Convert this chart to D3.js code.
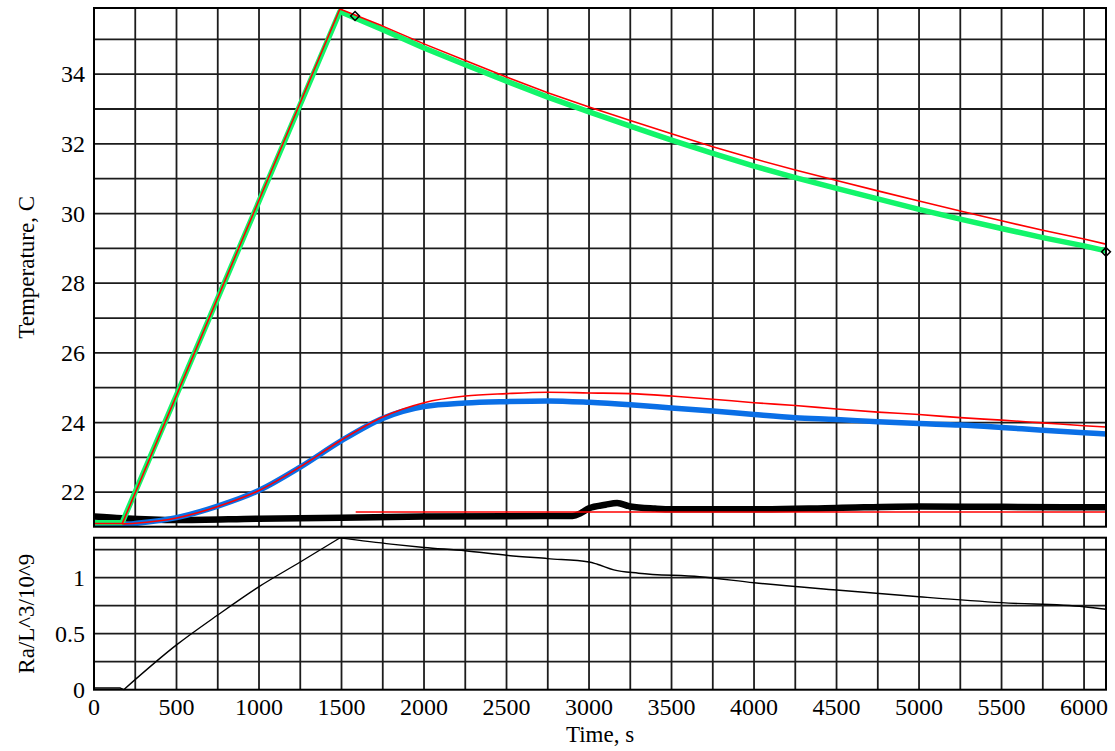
<!DOCTYPE html>
<html><head><meta charset="utf-8">
<script src="https://cdn.jsdelivr.net/npm/d3@7/dist/d3.min.js"></script>
<style>body{margin:0;background:#fff}svg{display:block}text{font-family:"Liberation Serif","Times New Roman",serif;fill:#000}</style>
</head><body><svg id="c" width="1115" height="751"></svg>
<script>
// ---- data ----
const tGreen   = [0,171,1490,1750,2000,2250,2500,2750,3000,3250,3500,3750,4000,4250,4500,4750,5000,5250,5500,5750,6000,6133];
const green    = [21.12,21.13,35.80,35.28,34.75,34.27,33.80,33.34,32.92,32.51,32.11,31.73,31.36,31.03,30.72,30.42,30.12,29.84,29.57,29.31,29.07,28.93];
const greenFit = [21.10,21.10,35.87,35.38,34.87,34.39,33.92,33.47,33.06,32.67,32.29,31.92,31.57,31.25,30.95,30.65,30.36,30.07,29.79,29.52,29.27,29.12];
const tBlue    = [0,171,250,500,750,1000,1250,1500,1750,2000,2250,2500,2750,3000,3250,3500,3750,4000,4250,4500,4750,5000,5250,5500,5750,6000,6133];
const blue     = [21.05,21.06,21.10,21.27,21.60,22.05,22.72,23.48,24.12,24.46,24.56,24.60,24.62,24.58,24.51,24.42,24.33,24.23,24.14,24.09,24.02,23.97,23.93,23.86,23.78,23.71,23.67];
const tBlueFit = [171,250,500,750,1000,1250,1500,1750,2000,2250,2500,2750,3000,3250,3500,3750,4000,4250,4500,4750,5000,5250,5500,5750,6000,6133];
const blueFit  = [21.09,21.11,21.26,21.59,22.05,22.73,23.50,24.16,24.57,24.76,24.83,24.87,24.85,24.83,24.76,24.67,24.57,24.49,24.39,24.30,24.23,24.14,24.07,23.99,23.91,23.87];
const tBlack   = [0,170,500,1000,1500,2000,2500,2900,2950,3000,3100,3170,3250,3400,3500,4000,4500,5000,5500,6000,6133];
const black    = [21.30,21.25,21.20,21.24,21.27,21.30,21.31,21.32,21.40,21.54,21.64,21.69,21.59,21.53,21.51,21.51,21.55,21.59,21.58,21.57,21.57];
const tBlackFit = [1586,6133];
const blackFit  = [21.43,21.43];
const markT = [1582,6133];
const markV = [35.67,28.90];
const tRaBase = [0,160,180];
const raBase  = [0.015,0.015,0.0];
const tRaUp  = [180,500,750,1000,1250,1490];
const raUp   = [0.0,0.40,0.667,0.92,1.14,1.355];
const tRaDown = [1490,1800,2000,2250,2500,2750,3000,3050,3150,3300,3670,4000,4500,5000,5500,6000,6133];
const raDown  = [1.355,1.30,1.27,1.24,1.20,1.17,1.14,1.12,1.07,1.04,1.009,0.955,0.89,0.83,0.777,0.741,0.718];
const xTicks = [0,500,1000,1500,2000,2500,3000,3500,4000,4500,5000,5500,6000];
const yTopTicks = [22,24,26,28,30,32,34];
const yBotTicks = [0,0.5,1];

// ---- layout ----
const L=94, R=1106, T1=8, B1=526.7, T2=537.7, B2=689.7;
const FONT='"Liberation Serif","Times New Roman",serif';
const svg=d3.select("#c");
const x=d3.scaleLinear().domain([0,6133]).range([L,R]);
const y1=d3.scaleLinear().domain([21.01,35.9]).range([B1,T1]);
const y2=d3.scaleLinear().domain([0,1.357]).range([B2,T2]);
const gridC="#1c1c1c";

function panel(y,top,bot,hTicks){
  const g=svg.append("g");
  const xs=d3.range(250,6133,250);
  g.selectAll(".v").data(xs).join("line").attr("x1",d=>x(d)).attr("x2",d=>x(d))
    .attr("y1",top).attr("y2",bot).attr("stroke",gridC).attr("stroke-width",1.8);
  g.selectAll(".h").data(hTicks).join("line").attr("x1",L).attr("x2",R)
    .attr("y1",d=>y(d)).attr("y2",d=>y(d)).attr("stroke",gridC).attr("stroke-width",1.8);
  return g;
}
panel(y1,T1,B1,d3.range(22,36,1));
panel(y2,T2,B2,[0.25,0.5,0.75,1,1.25]);

function line(g,ts,vs,y,color,w,curve){
  const pts=ts.map((t,i)=>[t,vs[i]]);
  g.append("path").datum(pts).attr("fill","none").attr("stroke",color).attr("stroke-width",w)
   .attr("stroke-linejoin","round")
   .attr("d",d3.line().x(d=>x(d[0])).y(d=>y(d[1])).curve(curve||d3.curveLinear));
}
svg.append("clipPath").attr("id","cp1").append("rect").attr("x",L).attr("y",T1).attr("width",R-L).attr("height",B1-T1);
const g1=svg.append("g").attr("clip-path","url(#cp1)");
line(g1,tBlack,black,y1,"#000",6.5,d3.curveMonotoneX);
line(g1,tBlue,blue,y1,"#0a6fe6",5.5,d3.curveMonotoneX);
line(g1,tGreen,green,y1,"#12f56a",5.5);
line(g1,tGreen,greenFit,y1,"#ff0000",1.6);
line(g1,tBlueFit,blueFit,y1,"#ff0000",1.6,d3.curveMonotoneX);
line(g1,tBlackFit,blackFit,y1,"#ff0000",1.6);
const sym=d3.symbol().type(d3.symbolDiamond2).size(50);
svg.append("g").selectAll("path").data(markT.map((t,i)=>[t,markV[i]])).join("path")
  .attr("d",sym).attr("transform",d=>`translate(${x(d[0])},${y1(d[1])})`)
  .attr("fill","none").attr("stroke","#000").attr("stroke-width",1.5);

const g2=svg.append("g");
line(g2,tRaBase,raBase,y2,"#000",1.4);
line(g2,tRaUp,raUp,y2,"#000",1.4,d3.curveMonotoneX);
line(g2,tRaDown,raDown,y2,"#000",1.4,d3.curveMonotoneX);

// frames
[[T1,B1],[T2,B2]].forEach(([a,b])=>svg.append("rect").attr("x",L).attr("y",a).attr("width",R-L).attr("height",b-a)
  .attr("fill","none").attr("stroke","#000").attr("stroke-width",2));

// axes labels
const fs=24, fst=23;
function txt(sel){return sel.attr("font-family",FONT);}
txt(svg.append("g").selectAll("text").data(xTicks).join("text")).attr("x",d=>x(d)).attr("y",B2+25)
  .attr("text-anchor","middle").attr("font-size",fs).text(d=>d);
txt(svg.append("g").selectAll("text").data(yTopTicks).join("text")).attr("x",L-9).attr("y",d=>y1(d)+8)
  .attr("text-anchor","end").attr("font-size",fs).text(d=>d);
txt(svg.append("g").selectAll("text").data(yBotTicks).join("text")).attr("x",L-9).attr("y",d=>y2(d)+8)
  .attr("text-anchor","end").attr("font-size",fs).text(d=>d);
txt(svg.append("text")).attr("x",(L+R)/2).attr("y",742).attr("text-anchor","middle").attr("font-size",fst).text("Time, s");
txt(svg.append("text")).attr("transform",`translate(34,${(T1+B1)/2}) rotate(-90)`).attr("text-anchor","middle").attr("font-size",fst).text("Temperature, C");
txt(svg.append("text")).attr("transform",`translate(34,${(T2+B2)/2}) rotate(-90)`).attr("text-anchor","middle").attr("font-size",fst).text("Ra/L^3/10^9");
</script></body></html>
